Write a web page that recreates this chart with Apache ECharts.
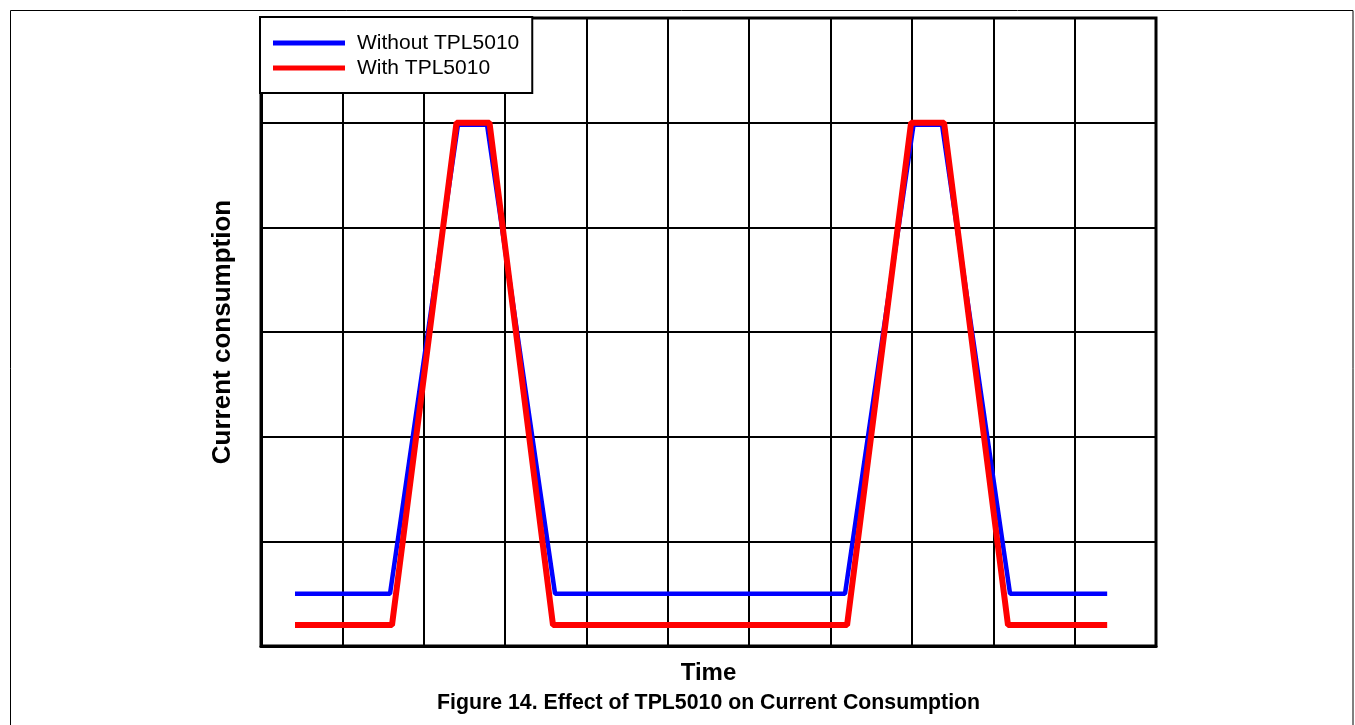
<!DOCTYPE html>
<html>
<head>
<meta charset="utf-8">
<script src="https://cdn.jsdelivr.net/npm/echarts@6/dist/echarts.min.js"></script>
<style>
html,body{margin:0;padding:0;background:#fff;}
#chart{width:1355px;height:725px;}
</style>
</head>
<body>
<div id="chart"></div>
<script>
// Time positions (in grid divisions) and current values (in grid divisions)
const withoutX = [0.418, 1.586, 2.421, 2.778, 3.614, 7.178, 8.02, 8.37, 9.206, 10.40];
const withoutY = [0.5, 0.5, 4.98, 4.98, 0.5, 0.5, 4.98, 4.98, 0.5, 0.5];
const withX = [0.418, 1.61, 2.403, 2.808, 3.589, 7.203, 7.99, 8.395, 9.181, 10.40];
const withY = [0.2, 0.2, 5.0, 5.0, 0.2, 0.2, 5.0, 5.0, 0.2, 0.2];
const seriesNames = ['Without TPL5010', 'With TPL5010'];
const xTitle = 'Time';
const yTitle = 'Current consumption';
const caption = 'Figure 14. Effect of TPL5010 on Current Consumption';

const zip = (xs, ys) => xs.map((x, i) => [x, ys[i]]);
const font = 'Arial, "Liberation Sans", sans-serif';

const chart = echarts.init(document.getElementById('chart'));
chart.setOption({
  animation: false,
  backgroundColor: '#fff',
  grid: {left: 261, top: 18, width: 895, height: 628, show: true, borderColor: '#000', borderWidth: 3},
  legend: {
    orient: 'vertical', left: 260, top: 17,
    backgroundColor: '#fff', borderColor: '#000', borderWidth: 2,
    padding: [15, 13, 14, 13],
    itemWidth: 72, itemHeight: 5, itemGap: 3,
    icon: 'rect',
    textStyle: {fontFamily: font, fontSize: 21, color: '#000', lineHeight: 22, padding: [0, 0, 0, 7]},
    data: seriesNames
  },
  xAxis: {
    type: 'value', min: 0, max: 11, interval: 1,
    axisLine: {show: true, lineStyle: {color: '#000', width: 3}},
    axisTick: {show: false}, axisLabel: {show: false},
    splitLine: {show: true, lineStyle: {color: '#000', width: 2}},
    name: xTitle, nameLocation: 'middle', nameGap: 15,
    nameTextStyle: {fontFamily: font, fontSize: 24, fontWeight: 'bold', color: '#000'}
  },
  yAxis: {
    type: 'value', min: 0, max: 6, interval: 1,
    axisLine: {show: true, lineStyle: {color: '#000', width: 3}},
    axisTick: {show: false}, axisLabel: {show: false},
    splitLine: {show: true, lineStyle: {color: '#000', width: 2}},
    name: yTitle, nameLocation: 'middle', nameGap: 25,
    nameTextStyle: {fontFamily: font, fontSize: 26, fontWeight: 'bold', color: '#000'}
  },
  graphic: [
    {type: 'rect', shape: {x: 10.5, y: 10.5, width: 1342.5, height: 730},
     style: {fill: null, stroke: '#000', lineWidth: 1}, silent: true, z: -1},
    {type: 'text', left: 437, top: 693,
     style: {text: caption, font: 'bold 21.3px ' + font, fill: '#000'},
     silent: true}
  ],
  series: [
    {name: seriesNames[0], type: 'line', data: zip(withoutX, withoutY), symbol: 'none',
     lineStyle: {color: '#0000ff', width: 4.5}, itemStyle: {color: '#0000ff'}, z: 3},
    {name: seriesNames[1], type: 'line', data: zip(withX, withY), symbol: 'none',
     lineStyle: {color: '#ff0000', width: 6}, itemStyle: {color: '#ff0000'}, z: 4}
  ]
});
</script>
</body>
</html>
